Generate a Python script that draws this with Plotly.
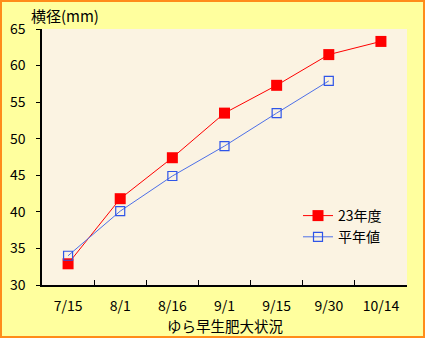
import plotly.graph_objects as go

categories = ["7/15", "8/1", "8/16", "9/1", "9/15", "9/30", "10/14"]
this_year = [32.9, 41.8, 47.4, 53.5, 57.3, 61.5, 63.3]
normal_year = [34.0, 40.1, 44.9, 49.0, 53.5, 57.9, None]
series_names = ["23年度", "平年値"]
y_title = "横径(mm)"
x_title = "ゆら早生肥大状況"

W, H = 425, 338
L, R, T, B = 42, 18, 29, 53
pw, ph = W - L - R, H - T - B

font = "Noto Sans CJK JP"

fig = go.Figure()
fig.add_trace(go.Scatter(
    x=categories, y=this_year, name=series_names[0], mode="lines+markers",
    line=dict(color="#FF0000", width=1),
    marker=dict(symbol="square", size=11, color="#FF0000", line=dict(width=0)),
))
fig.add_trace(go.Scatter(
    x=categories, y=normal_year, name=series_names[1], mode="lines+markers",
    line=dict(color="#4D6FE8", width=1),
    marker=dict(symbol="square-open", size=9, color="#2F55E8", line=dict(width=1.2)),
))

fig.update_layout(
    width=W, height=H,
    margin=dict(l=L, r=R, t=T, b=B),
    paper_bgcolor="#FFFF9E",
    plot_bgcolor="#FBF3E2",
    font=dict(family=font, size=13, color="#000000"),
    showlegend=True,
    legend=dict(
        x=(298 - L) / pw, y=(H - B - 200) / ph, xanchor="left", yanchor="top",
        bgcolor="rgba(0,0,0,0)", font=dict(size=14, family=font),
        itemwidth=30, tracegroupgap=0,
    ),
    xaxis=dict(
        type="category", range=[-0.5, 6.5], automargin=False,
        showline=True, linecolor="#000000", linewidth=1.5,
        ticks="inside", ticklen=5, tickcolor="#000000", tickson="boundaries",
        showgrid=False, zeroline=False,
        ticklabelstandoff=7,
        tickfont=dict(size=14, family=font),
    ),
    yaxis=dict(
        range=[30, 65], dtick=5, tick0=30, automargin=False,
        showline=True, linecolor="#000000", linewidth=1.5,
        ticks="outside", ticklen=4, tickcolor="#000000",
        showgrid=False, zeroline=False,
        ticklabelstandoff=8,
        tickfont=dict(size=14, family=font),
    ),
    annotations=[
        dict(
            text=y_title, xref="paper", yref="paper",
            x=(29 - L) / pw, y=(H - B - 15) / ph, xanchor="left", yanchor="middle",
            showarrow=False, font=dict(size=15, family=font),
        ),
        dict(
            text=x_title, xref="paper", yref="paper",
            x=0.5, y=(H - B - 325) / ph, xanchor="center", yanchor="middle",
            showarrow=False, font=dict(size=14.5, family=font),
        ),
    ],
    shapes=[dict(
        type="rect", xref="paper", yref="paper",
        x0=(1 - L) / pw, x1=(W - 1 - L) / pw,
        y0=(H - B - (H - 1)) / ph, y1=(H - B - 1) / ph,
        line=dict(color="#FF8C1A", width=2), fillcolor="rgba(0,0,0,0)",
        layer="below",
    )],
)

fig.write_html("out.html")
